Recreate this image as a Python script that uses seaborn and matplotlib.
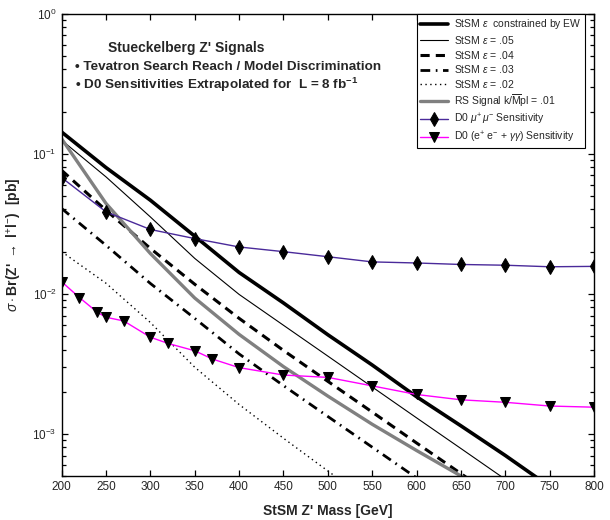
import numpy as np
import pandas as pd
import matplotlib
matplotlib.use("Agg")
import matplotlib.pyplot as plt
from matplotlib.ticker import NullFormatter
import seaborn as sns

# masses [GeV]
mass = [200, 250, 300, 350, 400, 450, 500, 550, 600, 650, 700, 750]

# StSM curves, sigma*Br [pb]
stsm_ew = [0.143, 0.0797, 0.0466, 0.0258, 0.0142, 0.0086, 0.0051, 0.0031, 0.00184, 0.00114, 0.00070, 0.00042]
stsm_05 = [0.125, 0.0684, 0.0354, 0.0179, 0.0099, 0.00596, 0.00359, 0.00216, 0.0013, 0.000785, 0.000473]
stsm_04 = [0.0762, 0.0395, 0.0211, 0.0117, 0.00668, 0.00394, 0.00237, 0.00143, 0.00086, 0.00052, 0.00031]
stsm_03 = [0.0407, 0.0222, 0.01186, 0.00668, 0.00372, 0.00221, 0.00133, 0.000803, 0.000484, 0.00029]
stsm_02 = [0.0200, 0.0119, 0.00624, 0.00299, 0.00162, 0.00093, 0.000543, 0.00032]
rs_01 = [0.128, 0.0442, 0.0194, 0.00933, 0.00513, 0.00302, 0.00186, 0.00117, 0.00076, 0.0005, 0.00033]

# D0 sensitivities
mu_mass = [200, 250, 300, 350, 400, 450, 500, 550, 600, 650, 700, 750, 800]
mu_sens = [0.0676, 0.0385, 0.0288, 0.0248, 0.0216, 0.0200, 0.0184, 0.0169, 0.0166, 0.0162, 0.0160, 0.0156, 0.0157]
ee_mass = [200, 220, 240, 250, 270, 300, 320, 350, 370, 400, 450, 500, 550, 600, 650, 700, 750, 800]
ee_sens = [0.0122, 0.00941, 0.0074, 0.0068, 0.0064, 0.0049, 0.00442, 0.00392, 0.00342, 0.00297,
           0.00263, 0.00253, 0.00220, 0.00191, 0.00175, 0.00168, 0.00158, 0.00155]

sns.set_style("ticks")
plt.rcParams['font.family'] = ['Liberation Sans', 'DejaVu Sans']
plt.rcParams['mathtext.fontset'] = 'custom'
plt.rcParams['mathtext.rm'] = 'Liberation Sans'
plt.rcParams['mathtext.it'] = 'Liberation Sans:italic'
plt.rcParams['mathtext.bf'] = 'Liberation Sans:bold'
plt.rcParams['xtick.direction'] = 'in'
plt.rcParams['ytick.direction'] = 'in'

fig = plt.figure(figsize=(6.1, 5.2), dpi=100)
ax = fig.add_axes([0.101, 0.0846, 0.873, 0.889])


def curve(yvals, **kw):
    df = pd.DataFrame({'m': mass[:len(yvals)], 'y': yvals})
    sns.lineplot(data=df, x='m', y='y', ax=ax, estimator=None, sort=False, **kw)


curve(stsm_ew, color='black', lw=2.6, label=r'StSM $\epsilon$  constrained by EW')
curve(stsm_05, color='black', lw=0.8, label=r'StSM $\epsilon$ = .05')
curve(stsm_04, color='black', lw=2.2, linestyle=(0, (3, 2)), label=r'StSM $\epsilon$ = .04')
curve(stsm_03, color='black', lw=2.0, linestyle=(0, (3.5, 2, 0.6, 2)), label=r'StSM $\epsilon$ = .03')
curve(stsm_02, color='black', lw=1.0, linestyle=(0, (1, 2.5)), label=r'StSM $\epsilon$ = .02')
curve(rs_01, color='#808080', lw=2.4, label=r'RS Signal k/$\overline{\mathrm{M}}$pl = .01')

mu_df = pd.DataFrame({'m': mu_mass, 'y': mu_sens})
sns.lineplot(data=mu_df, x='m', y='y', ax=ax, color='#4a2a9a', lw=1.0, marker='d',
             markersize=7.5, markerfacecolor='black', markeredgecolor='black',
             estimator=None, sort=False, label=r'D0 $\mu^{+}\,\mu^{-}$ Sensitivity')
ee_df = pd.DataFrame({'m': ee_mass, 'y': ee_sens})
sns.lineplot(data=ee_df, x='m', y='y', ax=ax, color='#ff00ff', lw=1.0, marker='v',
             markersize=6.5, markerfacecolor='black', markeredgecolor='black',
             estimator=None, sort=False, label=r'D0 (e$^{+}$ e$^{-}$ + $\gamma\gamma$) Sensitivity')

ax.set_yscale('log')
ax.set_ylim(5e-4, 1)
ax.set_xlim(200, 800)
ax.set_xticks(np.arange(200, 801, 50))
ax.yaxis.set_minor_formatter(NullFormatter())
ax.set_axisbelow(False)
ax.xaxis.set_tick_params(which='both', top=True, bottom=True)
ax.yaxis.set_tick_params(which='both', left=True, right=True)
ax.tick_params(which='major', labelsize=8.5, length=4.5, width=0.9, color='black')
ax.tick_params(which='minor', length=2.8, width=0.9, color='black')

ax.set_xlabel("StSM Z' Mass [GeV]", fontsize=10, fontweight='bold', labelpad=8)
ax.set_ylabel(r"$\sigma\cdot$Br(Z' $\rightarrow$ l$^{+}$l$^{-}$)  [pb]", fontsize=10,
              fontweight='bold', labelpad=6)

ax.text(0.088, 0.925, "Stueckelberg Z' Signals", transform=ax.transAxes, fontsize=10,
        fontweight='bold', va='center')
ax.text(0.025, 0.884, u"\u2022 Tevatron Search Reach / Model Discrimination", transform=ax.transAxes,
        fontsize=9.7, fontweight='bold', va='center')
ax.text(0.025, 0.846, u"\u2022 D0 Sensitivities Extrapolated for  L = 8 fb$^{\\mathbf{-1}}$",
        transform=ax.transAxes, fontsize=9.7, fontweight='bold', va='center')

leg = ax.legend(loc='upper right', bbox_to_anchor=(0.983, 1.0), borderaxespad=0,
                fontsize=7.5, frameon=True, fancybox=False, framealpha=1, edgecolor='black',
                handlelength=2.6, labelspacing=0.25, borderpad=0.35, handletextpad=0.6)
leg.get_frame().set_linewidth(0.8)

for s in ax.spines.values():
    s.set_linewidth(1.0)
    s.set_color('black')

# make sure the tick marks are drawn on top
fig.canvas.draw()
for minor_flag in (False, True):
    size = 2.8 if minor_flag else 4.5
    for tl in ax.get_xticklines(minor=minor_flag) + ax.get_yticklines(minor=minor_flag):
        tl.set_visible(True)
        tl.set_color('black')
        tl.set_markeredgecolor('black')
        tl.set_markerfacecolor('black')
        tl.set_markersize(size)
        tl.set_markeredgewidth(0.9)
        tl.set_alpha(1)
        tl.set_zorder(5)

fig.savefig('out.png', dpi=100)
